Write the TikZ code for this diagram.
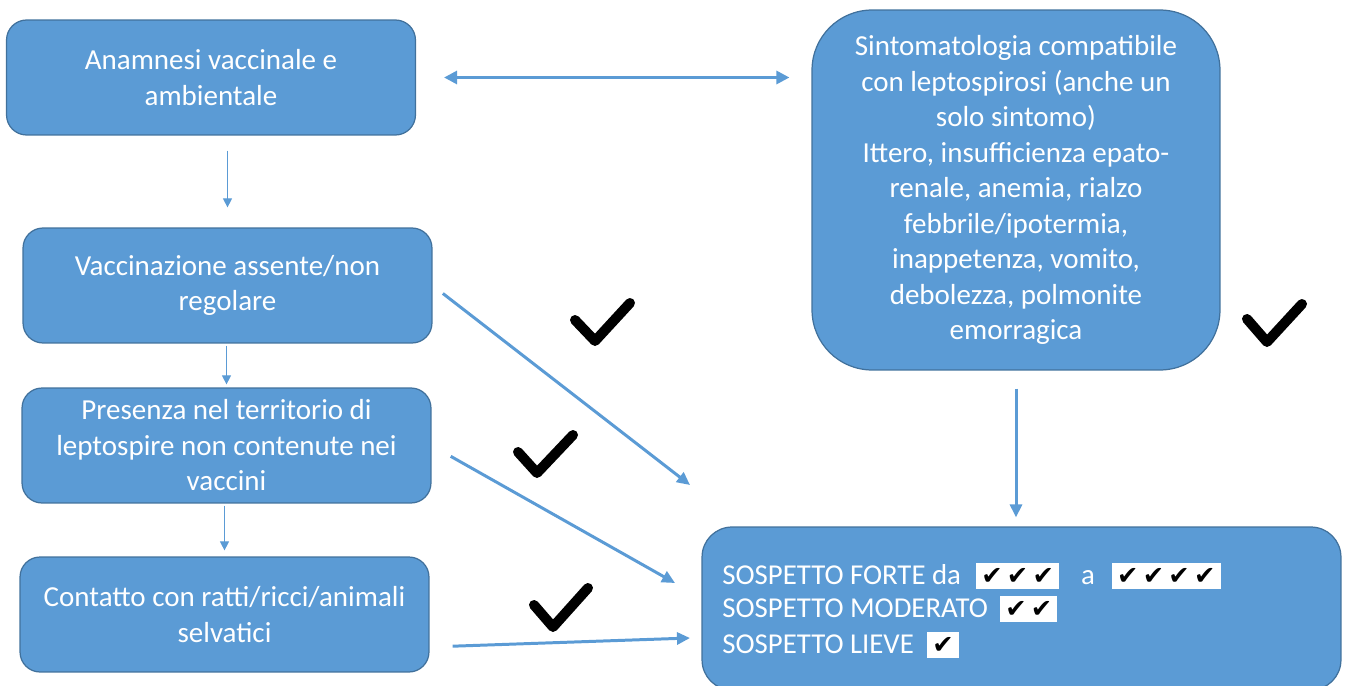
\documentclass[tikz,border=0pt]{standalone}
\usepackage{fontspec}
\setmainfont{Carlito}
\newfontfamily\simboli{DejaVu Sans}
\usetikzlibrary{arrows.meta,positioning,calc}
\definecolor{boxblu}{HTML}{5B9BD5}
\definecolor{bordoblu}{HTML}{41719C}
\newcommand{\spunte}[1]{{\setlength{\fboxsep}{3pt}\colorbox{white}{\simboli\fontsize{14.5}{14.5}\selectfont\color{black}#1}}}

\begin{document}
\begin{tikzpicture}[x=0.02cm, y=-0.02cm,
    box/.style={rectangle, rounded corners=0.4cm, draw=bordoblu, line width=0.7pt, fill=boxblu, text=white, align=center,
      font=\fontsize{16.5}{20.2}\selectfont, minimum width=8.18cm, minimum height=2.3cm, inner sep=0pt},
    riga/.style={anchor=west, text=white, inner sep=0pt, font=\fontsize{16.4}{20}\selectfont},
    freccia/.style={draw=boxblu, line width=1.7pt, -{Triangle[length=0.26cm,width=0.24cm]}},
    doppia/.style={draw=boxblu, line width=1.7pt, {Triangle[length=0.26cm,width=0.26cm]}-{Triangle[length=0.26cm,width=0.26cm]}},
    sottile/.style={draw=boxblu, line width=0.6pt, -{Triangle[length=0.18cm,width=0.18cm]}},
    spunta/.style={line width=0.2cm, line cap=round, line join=round}]
    \useasboundingbox (0,0) rectangle (1346,686);

    % riquadri a sinistra
    \node[box] (anamnesi) at (211,77.5) {Anamnesi vaccinale e\\ambientale};
    \node[box] (vaccino) at (227.5,285.5) {Vaccinazione assente/non\\regolare};
    \node[box] (territorio) at (226.5,445.5) {Presenza nel territorio di\\leptospire non contenute nei\\vaccini};
    \node[box] (contatto) at (224.5,614.5) {Contatto con ratti/ricci/animali\\selvatici};

    % sintomi
    \node[box, rounded corners=1.2cm, minimum width=8.16cm, minimum height=7.2cm] (sintomi) at (1016,190)
      {Sintomatologia compatibile\\con leptospirosi (anche un\\solo sintomo)\\Ittero, insufficienza epato-\\renale, anemia, rialzo\\febbrile/ipotermia,\\inappetenza, vomito,\\debolezza, polmonite\\emorragica};

    % esito
    \node[box, rounded corners=0.6cm, minimum width=12.78cm, minimum height=3.26cm] (sospetto) at (1021.5,608.5) {};
    \node[riga] (forte) at (722,576) {SOSPETTO FORTE da\hspace{0.3cm}\spunte{✔\,✔\,✔}\hspace{0.44cm}a\hspace{0.34cm}\spunte{✔\,✔\,✔\,✔}};
    \node[riga] (moderato) at (722,609) {SOSPETTO MODERATO\hspace{0.24cm}\spunte{✔\,✔}};
    \node[riga] (lieve) at (722,645) {SOSPETTO LIEVE\hspace{0.26cm}\spunte{✔}};

    % frecce
    \coordinate (puntaB) at (690,485);
    \coordinate (puntaC) at (675,583);
    \coordinate (puntaD) at (690,638);
    \draw[doppia, shorten <=0.56cm, shorten >=0.44cm] (anamnesi.east) -- (anamnesi.east -| sintomi.west);
    \draw[sottile, shorten <=0.3cm, shorten >=0.4cm] (anamnesi.south -| vaccino.north) -- (vaccino.north);
    \draw[sottile, shorten <=0.04cm, shorten >=0.06cm] (vaccino.south -| territorio.north) -- (territorio.north);
    \draw[sottile, shorten <=0.04cm, shorten >=0.12cm] (territorio.south -| contatto.north) -- (contatto.north);
    \draw[freccia, shorten <=0.26cm] (vaccino.east) -- (puntaB);
    \draw[freccia, shorten <=0.44cm] (territorio.east) -- (puntaC);
    \draw[freccia, shorten <=0.46cm] ([yshift=-0.65cm]contatto.east) -- (puntaD);
    \draw[freccia, shorten <=0.36cm, shorten >=0.18cm] (sintomi.south) -- (sintomi.south |- sospetto.north);

    % spunte grandi
    \draw[spunta] (575,320) -- (595,341) -- (630,303);
    \draw[spunta] (518,452) -- (537,473) -- (573,435);
    \draw[spunta] (534,605) -- (553,627) -- (588,588);
    \draw[spunta] (1247,319) -- (1267,342) -- (1302,304);
\end{tikzpicture}
\end{document}
